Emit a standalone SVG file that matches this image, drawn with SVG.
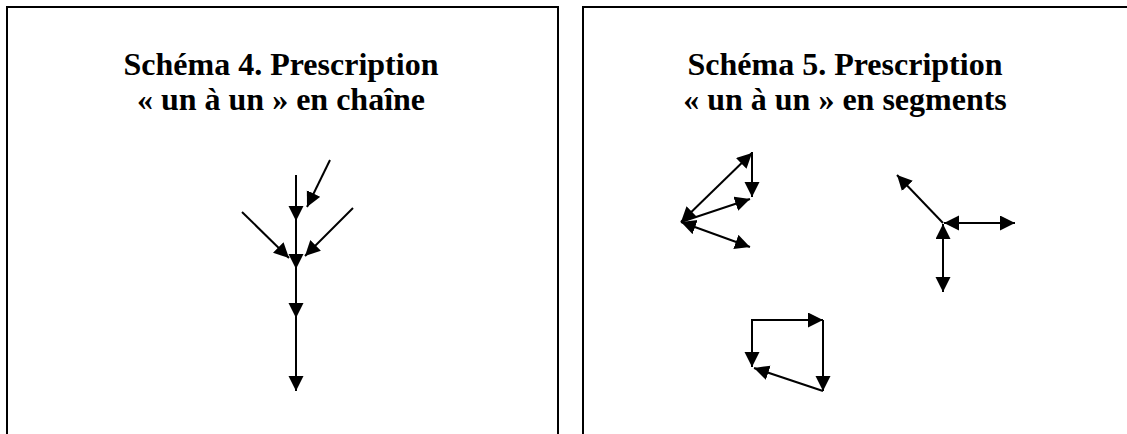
<svg xmlns="http://www.w3.org/2000/svg" width="1127" height="434" viewBox="0 0 1127 434">
  <style>
    .frame { fill: none; stroke: #000; stroke-width: 2; }
    .title { font-family: "Liberation Serif", "Times New Roman", serif; font-weight: bold; font-size: 32px; fill: #000; text-anchor: middle; }
    .arr { fill: none; stroke: #000; stroke-width: 2; marker-end: url(#head); }
    .dbl { fill: none; stroke: #000; stroke-width: 2; marker-start: url(#head); marker-end: url(#head); }
    .plain { fill: none; stroke: #000; stroke-width: 2; }
  </style>
  <defs>
    <marker id="head" markerUnits="userSpaceOnUse" markerWidth="17" markerHeight="16" refX="15" refY="7.5" orient="auto-start-reverse" viewBox="0 0 17 16">
      <path d="M0,0 L15,7.5 L0,15 z" fill="#000"/>
    </marker>
  </defs>
  <rect width="1127" height="434" fill="#fff"/>

  <g id="panel-schema-4">
    <path class="frame" d="M7,434 V7 H558 V434"/>
    <text class="title" x="281" y="75">Schéma 4. Prescription</text>
    <text class="title" x="281" y="110">« un à un » en chaîne</text>
  </g>

  <g id="panel-schema-5">
    <path class="frame" d="M583,434 V7 H1127"/>
    <text class="title" x="845" y="75">Schéma 5. Prescription</text>
    <text class="title" x="845" y="110">« un à un » en segments</text>
  </g>

  <g id="connectors">
    <!-- Schéma 4: chain -->
    <line class="arr" x1="296" y1="175" x2="296" y2="221"/>
    <line class="arr" x1="296" y1="221" x2="296" y2="269"/>
    <line class="arr" x1="296" y1="269" x2="296" y2="318"/>
    <line class="arr" x1="296" y1="318" x2="296" y2="391"/>
    <line class="arr" x1="330" y1="160" x2="307" y2="207"/>
    <line class="arr" x1="242" y1="212" x2="289" y2="258"/>
    <line class="arr" x1="353" y1="208" x2="305" y2="256"/>

    <!-- Schéma 5: cluster 1 -->
    <line class="dbl" x1="681" y1="222" x2="752" y2="153"/>
    <line class="arr" x1="752" y1="152" x2="752" y2="197"/>
    <line class="arr" x1="681" y1="222" x2="750" y2="199"/>
    <line class="dbl" x1="681" y1="222" x2="750" y2="247"/>

    <!-- Schéma 5: cluster 2 -->
    <line class="arr" x1="943" y1="223" x2="897" y2="175"/>
    <line class="dbl" x1="944" y1="223" x2="1015" y2="223"/>
    <line class="dbl" x1="943" y1="224" x2="943" y2="292"/>

    <!-- Schéma 5: cluster 3 -->
    <line class="arr" x1="752" y1="320" x2="823" y2="320"/>
    <line class="arr" x1="752" y1="319" x2="752" y2="367"/>
    <line class="arr" x1="823" y1="320" x2="823" y2="391"/>
    <line class="arr" x1="823" y1="391" x2="754" y2="368"/>
  </g>
</svg>
